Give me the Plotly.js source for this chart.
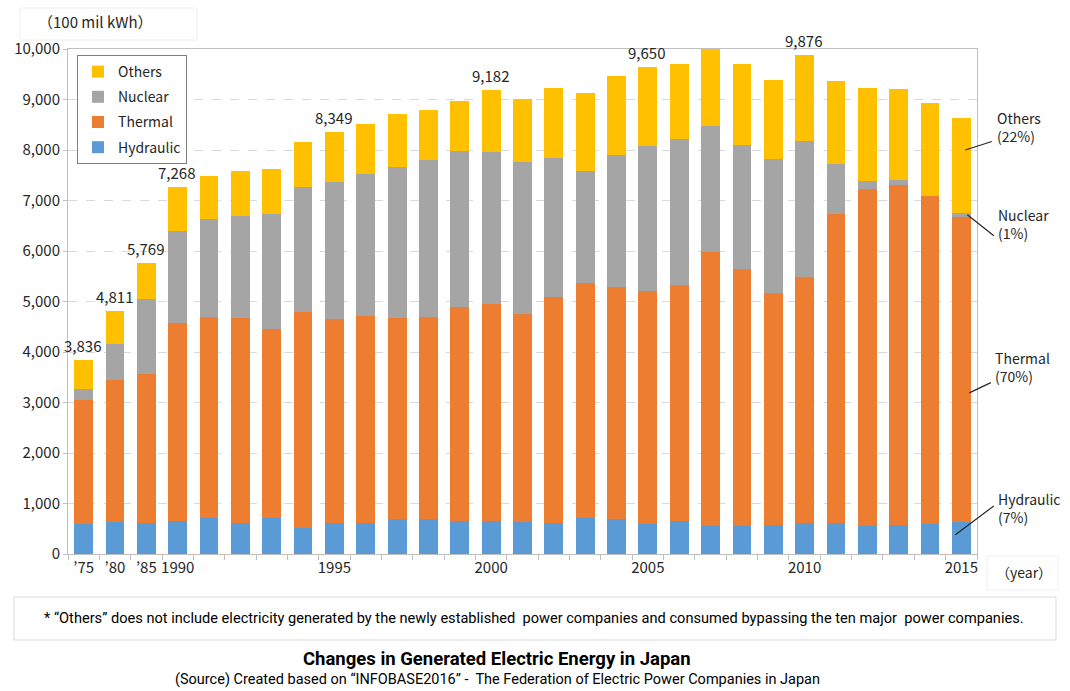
<!DOCTYPE html>
<html>
<head>
<meta charset="utf-8">
<script src="https://cdn.plot.ly/plotly-3.0.1.min.js"></script>
<style>
  html, body { margin: 0; padding: 0; background: #ffffff; }
  #chart { width: 1070px; height: 691px; }
</style>
</head>
<body>
<div id="chart"></div>
<script>
// ---- Data (100 mil kWh) ----
const categories = ["’75","’80","’85","1990","1991","1992","1993","1994","1995","1996","1997","1998","1999",
  "2000","2001","2002","2003","2004","2005","2006","2007","2008","2009","2010","2011","2012","2013","2014","2015"];
const tickLabels = ["’75","’80","’85","1990","","","","","1995","","","","",
  "2000","","","","","2005","","","","","2010","","","","","2015"];

const hydraulic = [594,634,607,647,713,607,713,508,607,607,686,686,647,
  653,634,620,719,693,594,660,561,561,574,620,620,561,574,601,634];
const thermal = [2449,2812,2964,3934,3987,4060,3736,4277,4046,4112,3994,4014,4244,
  4304,4118,4469,4654,4588,4621,4667,5419,5076,4588,4859,6106,6667,6733,6488,6039];
const nuclear = [218,712,1479,1808,1934,2033,2290,2482,2720,2812,2990,3102,3089,
  3010,3017,2759,2211,2620,2871,2884,2489,2469,2660,2699,1003,158,92,0,86];
const others = [575,653,719,879,858,878,878,898,976,977,1049,990,997,
  1215,1248,1380,1551,1564,1564,1492,1531,1604,1571,1698,1637,1842,1816,1848,1881];

const labeledYears = ["’75","’80","’85","1990","1995","2000","2005","2010"];

const shareLabels = [
  {text: "Others<br>(22%)", yv: 8000},
  {text: "Nuclear<br>(1%)", yv: 6716},
  {text: "Thermal<br>(70%)", yv: 3190},
  {text: "Hydraulic<br>(7%)", yv: 380}
];

// ---- Styling ----
const colors = {Hydraulic: "#5B9BD5", Thermal: "#ED7D31", Nuclear: "#A5A5A5", Others: "#FFC000"};
const ranks = {Others: 1, Nuclear: 2, Thermal: 3, Hydraulic: 4};
const jpFont = "Noto Sans CJK JP, Noto Sans, sans-serif";
const narrowFont = "Liberation Sans Narrow, Arial Narrow, Roboto, sans-serif";
const textColor = "#262626";

const xIdx = categories.map((c, i) => i);

function mk(name, vals) {
  return {
    type: "bar", name: name, x: xIdx, y: vals,
    marker: {color: colors[name]},
    legendgroup: name, legendrank: ranks[name], hoverinfo: "y+name"
  };
}
const traces = [mk("Hydraulic", hydraulic), mk("Thermal", thermal), mk("Nuclear", nuclear), mk("Others", others)];

const totals = categories.map((c, i) => hydraulic[i] + thermal[i] + nuclear[i] + others[i]);

const annotations = [];
labeledYears.forEach(c => {
  const i = categories.indexOf(c);
  annotations.push({
    x: i, y: totals[i], xref: "x", yref: "y",
    text: totals[i].toLocaleString("en-US"),
    showarrow: false, yanchor: "bottom", yshift: 2, xshift: -1,
    font: {family: jpFont, size: 15, color: textColor}
  });
});

// right-side share callouts (leader lines + text)
const lastIdx = categories.length - 1;
const lead = [
  {ax: 28, ay: -9, xs: 4, tx: 995, ty: 127},
  {ax: 28, ay: 22, xs: 6, tx: 996, ty: 224},
  {ax: 23, ay: -11, xs: 8, tx: 993, ty: 367},
  {ax: 40, ay: -30, xs: -6, tx: 996, ty: 508}
];
const X0 = 68, X1 = 977, Y0 = 49, Y1 = 554;
const px = v => (v - X0) / (X1 - X0);
const py = v => (Y1 - v) / (Y1 - Y0);
shareLabels.forEach((s, k) => {
  const L = lead[k];
  annotations.push({
    x: lastIdx, y: s.yv, xref: "x", yref: "y", xshift: L.xs,
    text: "", showarrow: true, arrowhead: 0, arrowwidth: 1.2, arrowcolor: "#262626",
    ax: L.ax, ay: L.ay, standoff: 0, startstandoff: 0
  });
  annotations.push({
    x: px(L.tx), y: py(L.ty), xref: "paper", yref: "paper",
    text: s.text, showarrow: false, xanchor: "left", yanchor: "middle", align: "left",
    font: {family: jpFont, size: 14, color: textColor}
  });
});

// unit and year labels
annotations.push({
  x: px(36), y: py(22), xref: "paper", yref: "paper", xanchor: "left", yanchor: "middle",
  text: "（100 mil kWh）", showarrow: false, font: {family: jpFont, size: 15, color: textColor}
});
annotations.push({
  x: px(994), y: py(572), xref: "paper", yref: "paper", xanchor: "left", yanchor: "middle",
  text: "（year）", showarrow: false, font: {family: jpFont, size: 14, color: textColor}
});
// footnote, title, source
annotations.push({
  x: px(42), y: py(618), xref: "paper", yref: "paper", xanchor: "left", yanchor: "middle",
  text: "* “Others” does not include electricity generated by the newly established  power companies and consumed bypassing the ten major  power companies.",
  showarrow: false, font: {family: narrowFont, size: 14.6, color: "#000000"}
});
annotations.push({
  x: px(497), y: py(659), xref: "paper", yref: "paper", xanchor: "center", yanchor: "middle",
  text: "<b>Changes in Generated Electric Energy in Japan</b>",
  showarrow: false, font: {family: narrowFont, size: 18.5, color: "#000000"}
});
annotations.push({
  x: px(497), y: py(679), xref: "paper", yref: "paper", xanchor: "center", yanchor: "middle",
  text: "(Source) Created based on “INFOBASE2016” -  The Federation of Electric Power Companies in Japan",
  showarrow: false, font: {family: narrowFont, size: 14.5, color: "#000000"}
});

const shapes = [
  {type: "rect", xref: "paper", yref: "paper", x0: px(14), x1: px(1056), y0: py(597), y1: py(640),
   line: {color: "#d9d9d9", width: 1}, layer: "below"},
  {type: "rect", xref: "paper", yref: "paper", x0: px(20), x1: px(197), y0: py(8), y1: py(40),
   line: {color: "#eeeeee", width: 1}, layer: "below"},
  {type: "rect", xref: "paper", yref: "paper", x0: px(987), x1: px(1058), y0: py(556), y1: py(590),
   line: {color: "#eeeeee", width: 1}, layer: "below"}
];

const layout = {
  width: 1070, height: 691,
  margin: {l: 68, r: 93, t: 49, b: 137, pad: 0},
  paper_bgcolor: "#ffffff", plot_bgcolor: "#ffffff",
  barmode: "stack", bargap: 0.4,
  showlegend: true,
  legend: {
    x: px(77), y: py(55), xanchor: "left", yanchor: "top",
    traceorder: "grouped", tracegroupgap: 4,
    bordercolor: "#7f7f7f", borderwidth: 1, bgcolor: "#ffffff",
    font: {family: jpFont, size: 14, color: textColor},
    itemwidth: 30
  },
  xaxis: {
    type: "linear", range: [-0.5, categories.length - 0.5],
    tickmode: "array", tickvals: xIdx, ticktext: tickLabels,
    ticks: "", showline: true, linecolor: "#bfbfbf", linewidth: 1, mirror: true,
    showgrid: false, zeroline: false, tickangle: 0,
    minor: {tick0: -0.5, dtick: 1, ticks: "outside", ticklen: 5, tickcolor: "#bfbfbf", tickwidth: 1, showgrid: false},
    tickfont: {family: jpFont, size: 15, color: textColor}
  },
  yaxis: {
    range: [0, 10000], dtick: 1000, tickformat: ",d",
    ticks: "outside", ticklen: 4, tickcolor: "#bfbfbf",
    showline: true, linecolor: "#bfbfbf", linewidth: 1, mirror: true,
    showgrid: true, gridcolor: "#d9d9d9", griddash: "dash", gridwidth: 1,
    zeroline: false,
    tickfont: {family: jpFont, size: 15, color: textColor}
  },
  annotations: annotations,
  shapes: shapes
};

Plotly.newPlot("chart", traces, layout, {displayModeBar: false, staticPlot: true});
</script>
</body>
</html>
